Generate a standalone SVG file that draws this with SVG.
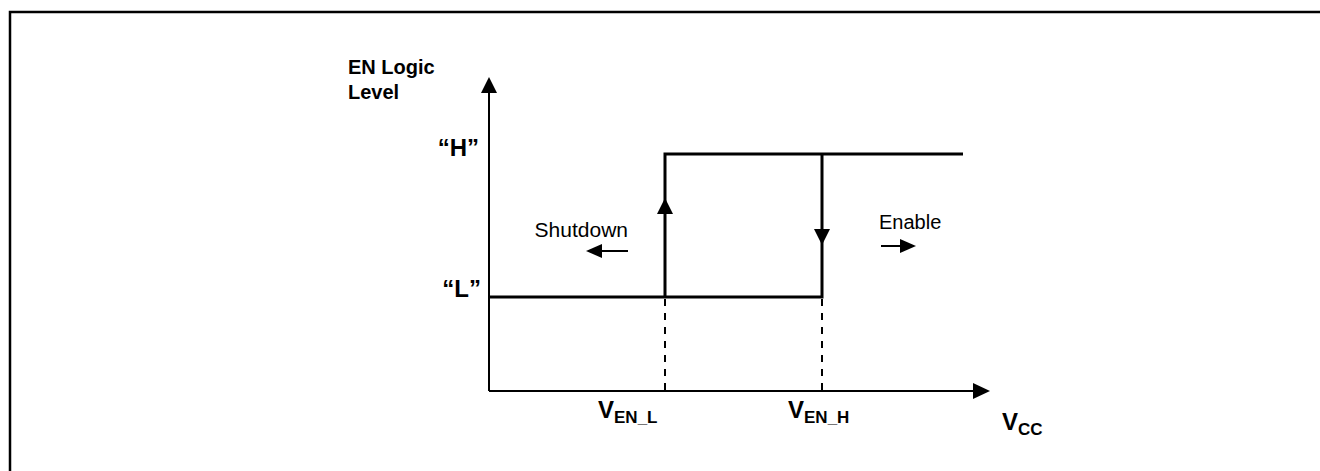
<svg xmlns="http://www.w3.org/2000/svg" width="1320" height="471" viewBox="0 0 1320 471">
<style>
.t{font-family:"Liberation Sans",Arial,sans-serif;fill:#000}
.b{font-weight:bold}
.ln{stroke:#000;fill:none}
</style>
<rect width="1320" height="471" fill="#fff"/>
<path class="ln" stroke-width="2.5" d="M10,471 V12 H1320"/>
<g id="connectors">
<line class="ln" stroke-width="2" x1="489" y1="391" x2="489" y2="90"/>
<path d="M489,77 L481,93 L497,93 z" fill="#000"/>
<line class="ln" stroke-width="2" x1="489" y1="391" x2="975" y2="391"/>
<path d="M990,391 L973,383 L973,399 z" fill="#000"/>
<path class="ln" stroke-width="3" d="M489,297 H822 V154 M665,297 V154 H963"/>
<path d="M665,198 L657,214 L673,214 z" fill="#000"/>
<path d="M822,245 L814,229 L830,229 z" fill="#000"/>
<line class="ln" stroke-width="2" stroke-dasharray="7,7" x1="665" y1="299" x2="665" y2="390"/>
<line class="ln" stroke-width="2" stroke-dasharray="7,7" x1="822" y1="299" x2="822" y2="390"/>
<line class="ln" stroke-width="2" x1="628" y1="251" x2="598" y2="251"/>
<path d="M586,251 L602,244 L602,258 z" fill="#000"/>
<line class="ln" stroke-width="2" x1="881" y1="246" x2="904" y2="246"/>
<path d="M916,246 L900,239 L900,253 z" fill="#000"/>
</g>
<g id="ylabel"><text class="t b" x="348" y="74" font-size="20">EN Logic</text><text class="t b" x="348" y="99" font-size="20">Level</text></g>
<g id="H"><text class="t b" x="479" y="156" font-size="24" text-anchor="end">“H”</text></g>
<g id="L"><text class="t b" x="481" y="297" font-size="24" text-anchor="end">“L”</text></g>
<g id="shutdown"><text class="t" x="628" y="237" font-size="21" text-anchor="end">Shutdown</text></g>
<g id="enable"><text class="t" x="879" y="229" font-size="20">Enable</text></g>
<g id="venl"><text class="t b" x="598" y="418" font-size="24">V<tspan font-size="17" dy="5">EN_L</tspan></text></g>
<g id="venh"><text class="t b" x="788" y="418" font-size="24">V<tspan font-size="17" dy="5">EN_H</tspan></text></g>
<g id="vcc"><text class="t b" x="1002" y="430" font-size="24">V<tspan font-size="17" dy="5">CC</tspan></text></g>
</svg>
